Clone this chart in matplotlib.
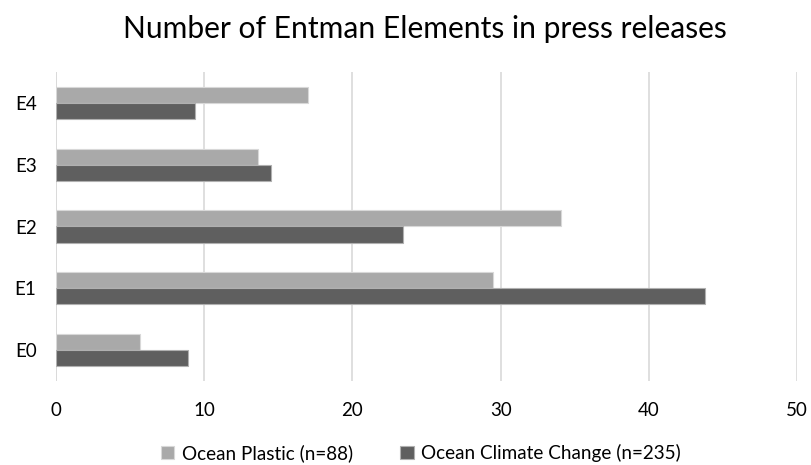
import matplotlib
matplotlib.use("Agg")
import matplotlib.pyplot as plt
import numpy as np

plt.rcParams['font.family'] = ['Lato', 'DejaVu Sans']

categories = ["E0", "E1", "E2", "E3", "E4"]
plastic = [5.7, 29.5, 34.1, 13.6, 17.0]
climate = [8.9, 43.8, 23.4, 14.5, 9.4]
series_names = ["Ocean Plastic (n=88)", "Ocean Climate Change (n=235)"]
x_ticks = [0, 10, 20, 30, 40, 50]

fig = plt.figure(figsize=(8.11, 4.65), dpi=100)
ax = fig.add_axes([56 / 811, 1 - 381 / 465, (797 - 56) / 811, (381 - 72) / 465])

y = np.arange(len(categories))
h = 0.26
ax.barh(y + h / 2, plastic, height=h, color="#A9A9A9", edgecolor="#D8D8D8",
        linewidth=0.8, label=series_names[0], zorder=3)
ax.barh(y - h / 2, climate, height=h, color="#5F5F5F", edgecolor="#B0B0B0",
        linewidth=0.8, label=series_names[1], zorder=3)

ax.set_xlim(0, 50)
ax.set_ylim(-0.5, len(categories) - 0.5)
ax.set_xticks(x_ticks)
ax.set_yticks(y)
ax.set_yticklabels(categories)
ax.xaxis.grid(True, color="#D9D9D9", linewidth=1.2, zorder=0)
ax.set_axisbelow(True)
for s in ax.spines.values():
    s.set_visible(False)
ax.axvline(0, color="#D9D9D9", linewidth=1.2, zorder=1)
ax.tick_params(length=0, labelsize=13.5, colors="#000000")
ax.tick_params(axis="x", pad=15)
ax.tick_params(axis="y", pad=14)

fig.text(425 / 811, 1 - 29 / 465, "Number of Entman Elements in press releases",
         ha="center", va="center", fontsize=21.6)

fig.legend(loc="center", bbox_to_anchor=(421 / 811, 1 - 453 / 465), ncol=2,
           frameon=False, fontsize=13.6, handlelength=0.7, handleheight=0.7,
           columnspacing=2.5, handletextpad=0.4)

fig.savefig("out.png", dpi=100)
